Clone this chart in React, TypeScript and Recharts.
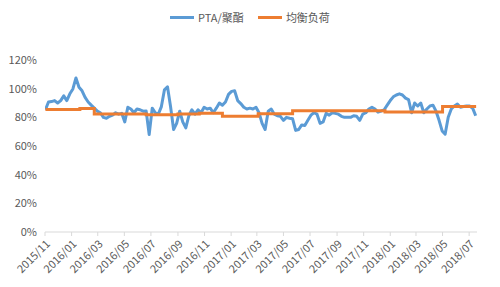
import { LineChart, Line, XAxis, YAxis, Legend } from 'recharts';

// weekly PTA/聚酯 load ratio (%), first week starting 2015/11/02
const firstWeek = Date.UTC(2015, 10, 2);
const DAY = 86400000;

const ptaPolyester = [
  85.3, 90.7, 91, 91.7, 90, 91.7, 95, 91.7, 96.4, 99.8,
  107.5, 101, 98.5, 93.9, 90.7, 88.5, 86.4, 84.3, 83.2, 80,
  79.4, 80.7, 81.5, 83.2, 82.2, 82.8, 76.8, 87, 85.8, 83.2,
  85.8, 85.3, 84.3, 84.5, 68, 86.4, 83.2, 82.2, 87.5, 99.2,
  101.3, 87.5, 71.5, 75.8, 84.3, 76.8, 72.6, 81.1, 85.3, 82.2,
  85.3, 83.2, 87, 85.8, 86.4, 83.2, 86.4, 90, 88.5, 90.7,
  96, 98.1, 98.5, 91.7, 89.6, 87, 85.8, 86.4, 85.8, 87,
  83.2, 75.8, 71.5, 84.3, 85.8, 82.2, 81.1, 80.7, 77.9, 80,
  79.4, 79, 70.9, 71.5, 74.7, 74.3, 77.9, 81.5, 83.2, 82.2,
  75.8, 76.8, 82.8, 81.5, 83.2, 82.8, 82.2, 80.7, 80, 80,
  80, 81.1, 80.7, 77.9, 82.2, 83.2, 85.8, 87, 85.8, 83.6,
  84.3, 85.3, 88.5, 91.7, 94.3, 95.6, 96.4, 95.6, 93.4, 92.4,
  83.2, 90, 87.9, 90, 83.2, 85.8, 87.9, 88.5, 84.3, 77.9,
  70.5, 68.3, 80, 85.8, 87.9, 89.2, 87, 87.5, 87.9, 87.9,
  86.4, 81.1,
];

// 均衡负荷: step values, each holds from its date until the next
const balanceDates = [
  '2015-11-02', '2016-01-20', '2016-02-22', '2016-06-20', '2016-09-01',
  '2016-10-20', '2016-12-12', '2017-03-04', '2017-05-22', '2017-12-20',
  '2018-05-01', '2018-07-17',
];
const balanceValues = [85.5, 86.2, 82.4, 81.8, 82.3, 82.8, 80.8, 82.5, 84.6, 83.8, 87.6, 87.6];

const tickMonths = [
  '2015/11', '2016/01', '2016/03', '2016/05', '2016/07', '2016/09', '2016/11',
  '2017/01', '2017/03', '2017/05', '2017/07', '2017/09', '2017/11',
  '2018/01', '2018/03', '2018/05', '2018/07',
];
const yTicks = [0, 20, 40, 60, 80, 100, 120];

const seriesNames = ['PTA/聚酯', '均衡负荷'];
const seriesColors = ['#5B9BD5', '#ED7D31'];

const toTime = (s: string) => {
  const [y, m, d] = s.split(/[-/]/).map(Number);
  return Date.UTC(y, m - 1, d || 1);
};

const blueData = ptaPolyester.map((v, i) => ({ t: firstWeek + i * 7 * DAY, v }));
const orangeData = balanceDates.map((d, i) => ({ t: toTime(d), v: balanceValues[i] }));
const xTicks = tickMonths.map(toTime);

const FONT = '"Noto Sans CJK SC", "Noto Sans", sans-serif';
const TEXT = '#595959';

const DateTick = ({ x, y, payload }: any) => {
  const d = new Date(payload.value);
  const label = `${d.getUTCFullYear()}/${String(d.getUTCMonth() + 1).padStart(2, '0')}`;
  const ax = x + 3;
  const ay = y + 4;
  return (
    <text x={ax} y={ay} dy="0.35em" transform={`rotate(-45 ${ax} ${ay})`} textAnchor="end"
      fill={TEXT} fontSize={11} fontFamily={FONT}>
      {label}
    </text>
  );
};

const renderLegend = () => (
  <div style={{ display: 'flex', justifyContent: 'center', gap: 14, fontFamily: FONT, fontSize: 11, color: TEXT }}>
    {seriesNames.map((n, i) => (
      <div key={n} style={{ display: 'flex', alignItems: 'center' }}>
        <span style={{ display: 'inline-block', width: 24, height: 3, background: seriesColors[i], marginRight: 4 }} />
        {n}
      </div>
    ))}
  </div>
);

export default function App() {
  return (
    <div style={{ position: 'fixed', left: 0, top: 0, width: 500, height: 287, background: '#fff' }}>
      <LineChart width={500} height={287} margin={{ top: 44, right: 23, bottom: 0, left: 8 }}>
        <XAxis
          dataKey="t"
          type="number"
          scale="time"
          domain={[Date.UTC(2015, 10, 1), Date.UTC(2018, 6, 19)]}
          ticks={xTicks}
          tick={<DateTick />}
          interval={0}
          height={55}
          tickSize={4}
          stroke="#D9D9D9"
          allowDataOverflow
        />
        <YAxis
          type="number"
          domain={[0, 120]}
          ticks={yTicks}
          tickFormatter={(v: number) => `${v}%`}
          width={37}
          axisLine={false}
          tickLine={false}
          tick={{ fill: TEXT, fontSize: 11, fontFamily: FONT }}
        />
        <Legend verticalAlign="top" align="center" content={renderLegend} wrapperStyle={{ top: 9, left: 0, width: 500 }} />
        <Line
          data={blueData}
          dataKey="v"
          name={seriesNames[0]}
          stroke={seriesColors[0]}
          strokeWidth={3}
          strokeLinejoin="round"
          dot={false}
          isAnimationActive={false}
          type="linear"
        />
        <Line
          data={orangeData}
          dataKey="v"
          name={seriesNames[1]}
          stroke={seriesColors[1]}
          strokeWidth={3}
          dot={false}
          isAnimationActive={false}
          type="stepAfter"
        />
      </LineChart>
    </div>
  );
}
